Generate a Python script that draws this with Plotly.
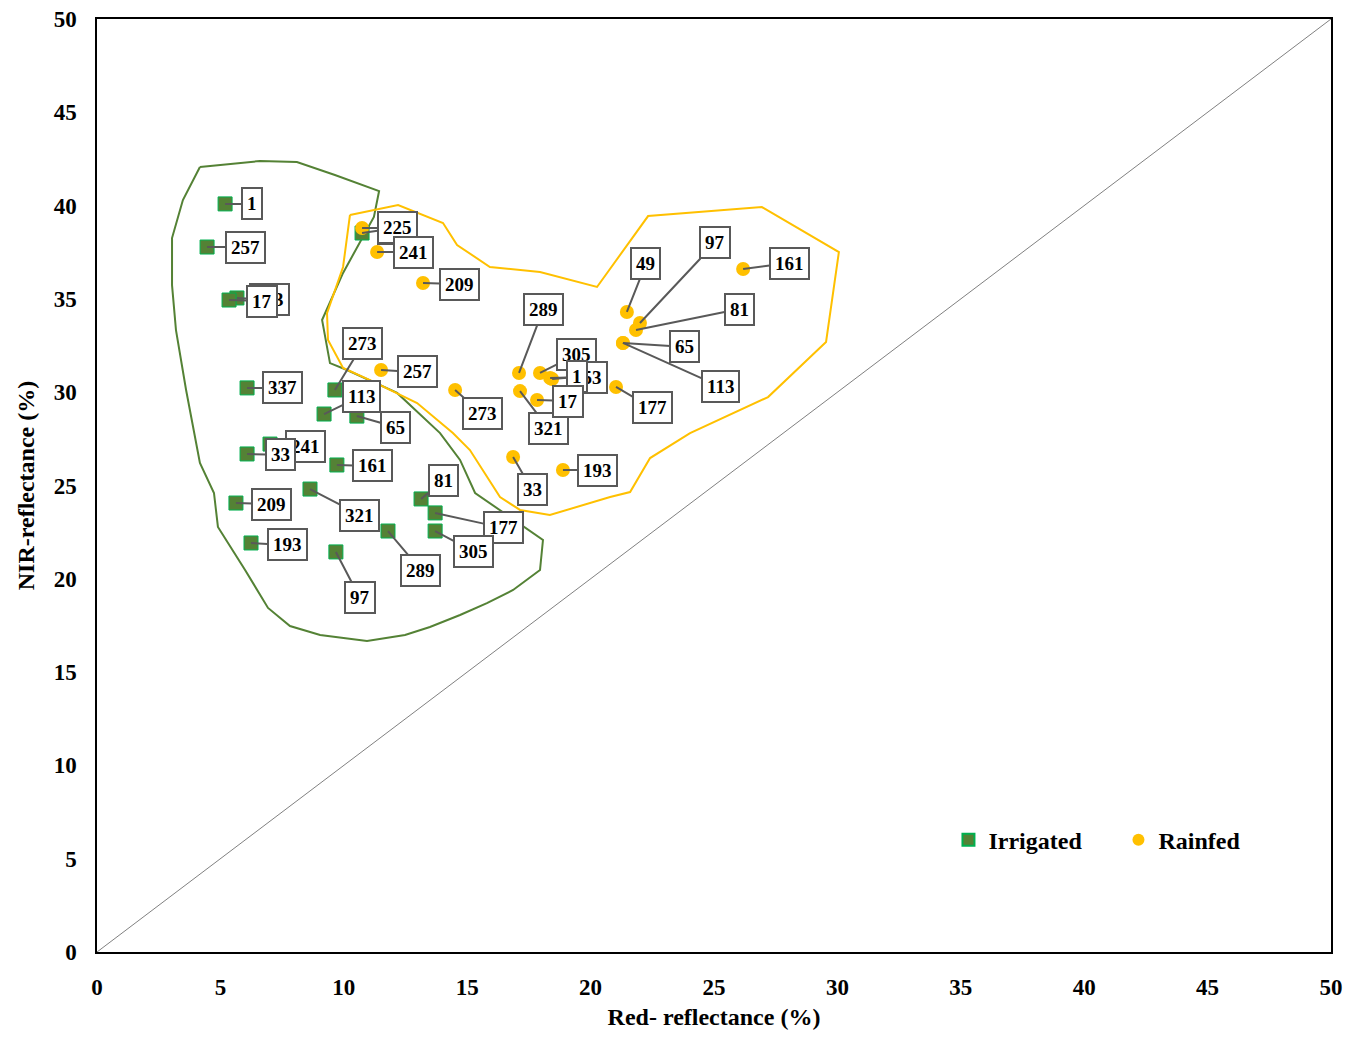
import plotly.graph_objects as go

# ---------------- data ----------------
irr_labels = ["1", "257", "353", "17", "225", "273", "337", "113", "65", "241", "33",
              "161", "209", "321", "193", "97", "289", "81", "177", "305"]
irr_red = [5.19, 4.46, 5.67, 5.35, 10.74, 9.64, 6.08, 9.20, 10.53, 7.01, 6.08,
           9.72, 5.63, 8.63, 6.24, 9.68, 11.79, 13.13, 13.70, 13.70]
irr_nir = [40.09, 37.78, 35.05, 34.94, 38.53, 30.12, 30.23, 28.83, 28.72, 27.22, 26.69,
           26.10, 24.06, 24.81, 21.92, 21.44, 22.56, 24.28, 23.53, 22.56]

rain_labels = ["225", "241", "209", "257", "273", "289", "305", "353", "1", "321", "17",
               "33", "193", "177", "49", "97", "81", "65", "113", "161"]
rain_red = [10.74, 11.35, 13.21, 11.51, 14.51, 17.10, 17.95, 18.36, 18.44, 17.14, 17.83,
            16.86, 18.88, 21.03, 21.47, 22.00, 21.84, 21.31, 21.31, 26.18]
rain_nir = [38.80, 37.51, 35.85, 31.19, 30.12, 31.03, 31.03, 30.76, 30.71, 30.06, 29.58,
            26.53, 25.83, 30.28, 34.30, 33.71, 33.33, 32.64, 32.64, 36.60]

irr_hull_red = [4.17, 6.60, 8.10, 9.64, 11.43, 11.22, 10.86, 9.97, 9.12, 9.44, 10.13, 12.16,
                13.90, 14.71, 15.32, 18.07, 17.95, 16.86, 15.80, 14.71, 13.49, 12.48, 10.94,
                9.04, 7.82, 6.93, 6.00, 4.90, 4.74, 4.17, 3.61, 3.20, 3.04, 3.04, 3.48, 4.17]
irr_hull_nir = [42.07, 42.39, 42.34, 41.64, 40.78, 39.39, 38.53, 36.39, 33.87, 31.56, 31.19, 29.96,
                27.81, 26.37, 24.60, 22.08, 20.47, 19.40, 18.70, 18.06, 17.42, 16.99, 16.67,
                16.99, 17.47, 18.44, 20.47, 22.78, 24.60, 26.21, 30.12, 33.33, 35.74, 38.26, 40.30, 42.07]

rain_hull_red = [10.25, 12.20, 14.02, 14.59, 15.92, 17.95, 20.26, 22.33, 26.94, 30.06, 29.54,
                 27.19, 24.03, 22.41, 21.60, 20.79, 18.35, 17.14, 16.33, 15.11, 14.42, 12.97,
                 11.06, 9.97, 9.36, 9.32, 9.97, 10.25]
rain_hull_nir = [39.50, 40.03, 39.07, 37.89, 36.71, 36.44, 35.64, 39.44, 39.92, 37.51, 32.69,
                 29.74, 27.81, 26.47, 24.65, 24.38, 23.42, 23.69, 24.38, 26.90, 27.81, 29.42,
                 30.65, 31.30, 32.80, 34.24, 36.71, 39.50]

line_11 = [0, 50]
ticks = [0, 5, 10, 15, 20, 25, 30, 35, 40, 45, 50]

# label offsets in pixels (layout only)
irr_off = {"1": (27, 0), "257": (38, 0), "353": (33, 2), "17": (33, 1), "225": (35, -5),
           "273": (28, -46), "337": (35, 0), "113": (37, -18), "65": (39, 11),
           "241": (35, 2), "33": (33, 1), "161": (36, 1), "209": (36, 1), "321": (50, 26),
           "193": (36, 2), "97": (24, 46), "289": (33, 39), "81": (22, -18),
           "177": (68, 15), "305": (38, 20)}
rain_off = {"225": (35, 0), "241": (36, 0), "209": (36, 1), "257": (36, 2), "273": (27, 24),
            "289": (24, -63), "305": (36, -18), "353": (37, -1), "1": (25, -2),
            "321": (28, 37), "17": (31, 1), "33": (19, 33), "193": (35, 0),
            "177": (36, 21), "49": (19, -48), "97": (75, -80), "81": (103, -21),
            "65": (62, 4), "113": (98, 44), "161": (46, -6)}

FONT = "Liberation Serif"
GREEN = "#548235"
ORANGE = "#FFC000"

fig = go.Figure()
fig.add_trace(go.Scatter(x=line_11, y=line_11, mode="lines",
                         line=dict(color="#808080", width=1), showlegend=False, hoverinfo="skip"))
fig.add_trace(go.Scatter(x=irr_hull_red, y=irr_hull_nir, mode="lines",
                         line=dict(color=GREEN, width=2), showlegend=False, hoverinfo="skip"))
fig.add_trace(go.Scatter(x=rain_hull_red, y=rain_hull_nir, mode="lines",
                         line=dict(color=ORANGE, width=2), showlegend=False, hoverinfo="skip"))
fig.add_trace(go.Scatter(x=irr_red, y=irr_nir, mode="markers", name="Irrigated",
                         marker=dict(symbol="square", size=14, color=GREEN,
                                     line=dict(color="#00B050", width=1))))
fig.add_trace(go.Scatter(x=rain_red, y=rain_nir, mode="markers", name="Rainfed",
                         marker=dict(symbol="circle", size=14, color=ORANGE,
                                     line=dict(width=0))))

annotations = []
def add_labels(labels, xs, ys, offs):
    for lab, x, y in zip(labels, xs, ys):
        ax, ay = offs[lab]
        annotations.append(dict(
            x=x, y=y, xref="x", yref="y", ax=ax, ay=ay, text=lab,
            showarrow=True, arrowhead=0, arrowwidth=2, arrowcolor="#595959",
            standoff=0, startstandoff=0,
            font=dict(family=FONT, size=19, color="black", weight="bold"),
            bgcolor="white", bordercolor="#595959", borderwidth=2, borderpad=4))

add_labels(irr_labels, irr_red, irr_nir, irr_off)
add_labels(rain_labels, rain_red, rain_nir, rain_off)

axis_common = dict(range=[0, 50], tickvals=ticks, showgrid=False, zeroline=False,
                   showline=True, linecolor="black", linewidth=1.5, mirror=True,
                   ticks="", tickfont=dict(family=FONT, size=23, color="black", weight="bold"),
                   ticklabelstandoff=14, automargin=False, ticklabeloverflow="allow")

fig.update_layout(
    width=1347, height=1022,
    margin=dict(l=89, r=24, t=11, b=78),
    plot_bgcolor="white", paper_bgcolor="white",
    xaxis=dict(axis_common, title=dict(text="Red- reflectance (%)",
                                       font=dict(family=FONT, size=24, color="black", weight="bold"),
                                       standoff=14)),
    yaxis=dict(axis_common, title=dict(text="NIR-reflectance (%)",
                                       font=dict(family=FONT, size=24, color="black", weight="bold"),
                                       standoff=12)),
    legend=dict(orientation="h", x=0.69, y=0.12, xanchor="left", yanchor="middle",
                font=dict(family=FONT, size=24, color="black", weight="bold"),
                bgcolor="rgba(0,0,0,0)", itemsizing="constant",
                entrywidth=125, itemwidth=30),
    annotations=annotations,
)

fig.write_html("out.html")
